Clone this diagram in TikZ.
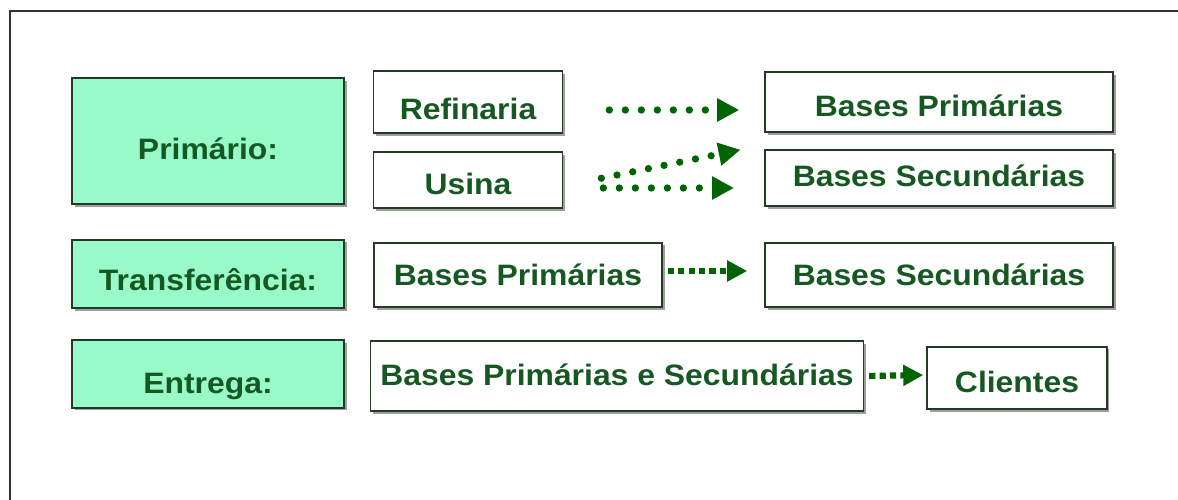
\documentclass[tikz,border=0pt]{standalone}
\usepackage{fontspec}
\setmainfont[FakeStretch=1.08]{Liberation Sans}
\usetikzlibrary{arrows.meta,shadows,calc}
\definecolor{mint}{RGB}{152,250,200}
\definecolor{txtgreen}{RGB}{22,88,34}
\definecolor{arrgreen}{RGB}{0,100,0}
\definecolor{edge}{RGB}{36,58,36}
\begin{document}
\begin{tikzpicture}[x=0.025cm, y=-0.025cm,
    box/.style={draw=edge, line width=1.3pt, text=txtgreen, inner sep=0pt,
      font=\fontsize{21}{24}\selectfont\bfseries, text depth=0pt, text height=15pt,
      drop shadow={shadow xshift=0.07cm, shadow yshift=-0.07cm, fill=gray!75, opacity=1}},
    catbox/.style={box, fill=mint},
    placebox/.style={box, fill=white},
    dotflow/.style={arrgreen, line width=5.2pt, line cap=round, dash pattern=on 0pt off 0.4cm,
      -{Triangle[length=0.55cm, width=0.55cm, line cap=butt]}},
    sqflow/.style={arrgreen, line width=4.4pt, dash pattern=on 4.4pt off 3pt,
      -{Triangle[length=0.5cm, width=0.5cm]}}]
    \useasboundingbox (0,0) rectangle (1178,500);
    \draw [line width=0.9pt, black!80] (10,500) -- (10,11) -- (1178,11);

    % categorias
    \node [catbox, minimum width=6.8cm, minimum height=3.15cm, text height=27pt] (prim) at (208,141) {Primário:};
    \node [catbox, minimum width=6.8cm, minimum height=1.72cm, text height=23.5pt] (transf) at (208,274) {Transferência:};
    \node [catbox, minimum width=6.8cm, minimum height=1.68cm, text height=28pt] (entrega) at (208,374) {Entrega:};

    % primario
    \node [placebox, minimum width=4.72cm, minimum height=1.55cm, text height=25.5pt] (refin) at (468,102) {Refinaria};
    \node [placebox, minimum width=4.72cm, minimum height=1.4cm, text height=20pt] (usina) at (468,180) {Usina};
    \node [placebox, minimum width=8.7cm, minimum height=1.5cm, text height=20.5pt] (bprim) at (939,102) {Bases Primárias};
    \node [placebox, minimum width=8.7cm, minimum height=1.4cm, text height=12pt] (bsec) at (939,178) {Bases Secundárias};

    % transferencia
    \node [placebox, minimum width=7.2cm, minimum height=1.62cm] (tprim) at (518,275) {Bases Primárias};
    \node [placebox, minimum width=8.7cm, minimum height=1.6cm] (tsec) at (939,275) {Bases Secundárias};

    % entrega
    \node [placebox, minimum width=12.32cm, minimum height=1.75cm, text height=13pt] (eboth) at (617,376) {Bases Primárias e Secundárias};
    \node [placebox, minimum width=4.48cm, minimum height=1.57cm, text height=20.5pt] (client) at (1017,378) {Clientes};

    \draw [dotflow, shorten <=1.15cm, shorten >=0.62cm] ($(refin.east)+(0,8)$) -- ($(bprim.west)+(0,8)$);
    \draw [dotflow, shorten <=0.97cm, shorten >=0.6cm] ($(usina.east)+(0,6)$) -- ($(bprim.south west)+(0,12)$);
    \draw [dotflow, shorten <=1.0cm, shorten >=0.75cm] ($(usina.east)+(0,8)$) -- ($(bsec.west)+(0,10)$);
    \draw [sqflow, shorten <=0.12cm, shorten >=0.42cm] ($(tprim.east)+(0,-4)$) -- ($(tsec.west)+(0,-4)$);
    \draw [sqflow, shorten <=0.12cm, shorten >=0.08cm] (eboth.east) -- ($(client.west)+(0,-3)$);
\end{tikzpicture}
\end{document}
